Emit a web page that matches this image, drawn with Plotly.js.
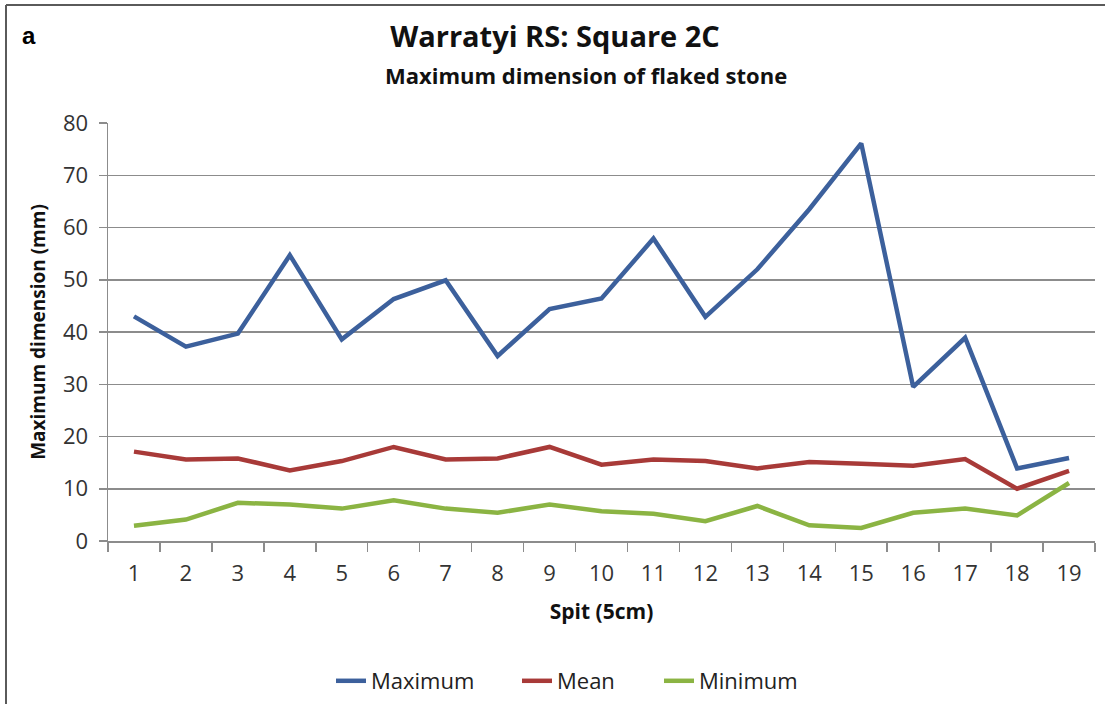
<!DOCTYPE html>
<html>
<head>
<meta charset="utf-8">
<script src="https://cdn.plot.ly/plotly-3.0.1.min.js"></script>
<style>
  html, body { margin: 0; padding: 0; background: #ffffff; }
  #chart { width: 1105px; height: 704px; }
</style>
</head>
<body>
<div id="chart"></div>
<script>
// ---- Data ----
const spits = ["1","2","3","4","5","6","7","8","9","10","11","12","13","14","15","16","17","18","19"];
const maximum = [43.0, 37.2, 39.7, 54.7, 38.6, 46.3, 49.9, 35.4, 44.4, 46.4, 57.9, 42.9, 52.0, 63.5, 76.1, 29.5, 38.9, 13.9, 15.9];
const mean    = [17.1, 15.6, 15.8, 13.5, 15.3, 18.0, 15.6, 15.8, 18.0, 14.6, 15.6, 15.3, 13.9, 15.1, 14.8, 14.4, 15.7, 10.0, 13.4];
const minimum = [2.9, 4.1, 7.3, 7.0, 6.2, 7.8, 6.2, 5.4, 7.0, 5.7, 5.2, 3.8, 6.7, 3.0, 2.5, 5.4, 6.2, 4.9, 11.1];
const seriesNames = ["Maximum", "Mean", "Minimum"];
const yTicks = [0, 10, 20, 30, 40, 50, 60, 70, 80];

const FONT = "'Open Sans', 'Noto Sans', sans-serif";
const colors = ["#3c609c", "#a83a38", "#8bb443"];
const legendIds = ["legend", "legend2", "legend3"];

const traces = [maximum, mean, minimum].map((vals, i) => ({
  type: "scatter",
  mode: "lines",
  name: seriesNames[i],
  legend: legendIds[i],
  x: spits,
  y: vals,
  line: { color: colors[i], width: 4.5 },
  hoverinfo: "x+y+name"
}));

// plot area: x 108..1095, y 123..541 (pixels)
const px = v => (v - 108) / 987;
const py = v => (541 - v) / 418;

function legendAt(xPix) {
  return {
    orientation: "h",
    x: px(xPix), xanchor: "left",
    y: py(681), yanchor: "middle",
    font: { family: FONT, size: 22, color: "#222222" },
    bgcolor: "rgba(0,0,0,0)",
    borderwidth: 0,
    itemwidth: 30
  };
}

const frameColor = "#5a5a5a";
const layout = {
  width: 1105,
  height: 704,
  paper_bgcolor: "#ffffff",
  plot_bgcolor: "#ffffff",
  margin: { l: 108, r: 10, t: 123, b: 163, pad: 0, autoexpand: false },
  font: { family: FONT, color: "#404040" },
  title: {
    text: "<b>Warratyi RS: Square 2C</b>",
    font: { family: FONT, size: 29, color: "#111111" },
    xref: "container", yref: "container",
    x: 555 / 1105, xanchor: "center",
    y: 1 - 37 / 704, yanchor: "middle"
  },
  xaxis: {
    type: "category",
    range: [-0.5, 18.5],
    tickson: "boundaries",
    ticks: "outside",
    ticklen: 9,
    tickwidth: 1.5,
    tickcolor: "#8c8c8c",
    showline: true,
    linecolor: "#8c8c8c",
    linewidth: 1.5,
    showgrid: false,
    zeroline: false,
    tickfont: { family: FONT, size: 22, color: "#333333" },
    ticklabelstandoff: 12,
    title: {
      text: "<b>Spit (5cm)</b>",
      font: { family: FONT, size: 21, color: "#111111" },
      standoff: 18
    }
  },
  yaxis: {
    range: [0, 80],
    tickvals: yTicks,
    ticks: "outside",
    ticklen: 8,
    tickwidth: 1.5,
    tickcolor: "#8c8c8c",
    showline: true,
    linecolor: "#8c8c8c",
    linewidth: 1.5,
    showgrid: true,
    gridcolor: "#8c8c8c",
    gridwidth: 1.5,
    zeroline: false,
    tickfont: { family: FONT, size: 22, color: "#333333" },
    ticklabelstandoff: 6,
    title: {
      text: "<b>Maximum dimension (mm)</b>",
      font: { family: FONT, size: 19, color: "#111111" },
      standoff: 12
    }
  },
  legend: legendAt(331),
  legend2: legendAt(517),
  legend3: legendAt(659),
  annotations: [
    {
      text: "<b>Maximum dimension of flaked stone</b>",
      xref: "paper", yref: "paper",
      x: px(586), xanchor: "center",
      y: py(75), yanchor: "middle",
      showarrow: false,
      font: { family: FONT, size: 22, color: "#111111" }
    },
    {
      text: "<b>a</b>",
      xref: "paper", yref: "paper",
      x: px(20), xanchor: "left",
      y: py(35), yanchor: "middle",
      showarrow: false,
      font: { family: "'Liberation Sans', Arial, sans-serif", size: 24, color: "#000000" }
    }
  ],
  shapes: [
    { type: "line", xref: "paper", yref: "paper",
      x0: px(6), x1: px(6), y0: py(5), y1: py(710),
      line: { color: frameColor, width: 2 } },
    { type: "line", xref: "paper", yref: "paper",
      x0: px(6), x1: px(1110), y0: py(5), y1: py(5),
      line: { color: frameColor, width: 2 } }
  ],
  showlegend: true
};

Plotly.newPlot("chart", traces, layout, { displayModeBar: false, staticPlot: true });
</script>
</body>
</html>
